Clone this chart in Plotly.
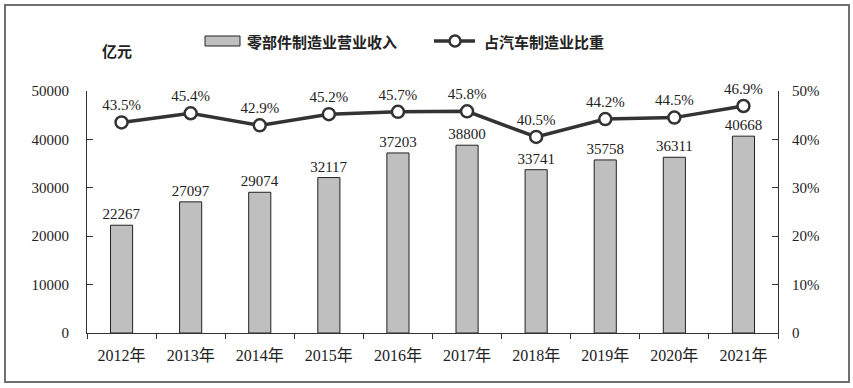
import plotly.graph_objects as go

years = ["2012年", "2013年", "2014年", "2015年", "2016年", "2017年", "2018年", "2019年", "2020年", "2021年"]
revenue = [22267, 27097, 29074, 32117, 37203, 38800, 33741, 35758, 36311, 40668]
share = [43.5, 45.4, 42.9, 45.2, 45.7, 45.8, 40.5, 44.2, 44.5, 46.9]

W, H = 853, 388
ml, mr, mt, mb = 87, 75, 91, 55
pw, ph = W - ml - mr, H - mt - mb

serif = '"Liberation Serif", "Times New Roman", "Noto Sans CJK SC", serif'
cjk = '"Noto Sans CJK SC", sans-serif'


def px(x):
    return (x - ml) / pw


def py(y):
    return (H - mb - y) / ph


fig = go.Figure()
fig.add_trace(go.Bar(
    x=years, y=revenue, name="零部件制造业营业收入",
    marker=dict(color="#bfbfbf", line=dict(color="#222222", width=1)),
    width=0.32,
    text=[str(v) for v in revenue], textposition="outside", constraintext="none",
    textfont=dict(family=serif, size=15, color="#222222"),
    cliponaxis=False, showlegend=False,
))
fig.add_trace(go.Scatter(
    x=years, y=[s / 100 for s in share], name="占汽车制造业比重", yaxis="y2",
    mode="lines+markers+text",
    line=dict(color="#333333", width=3.5),
    marker=dict(size=12, color="white", line=dict(color="#333333", width=2.5)),
    text=[f"{s}%" for s in share], textposition="top center",
    textfont=dict(family=serif, size=15, color="#222222"),
    cliponaxis=False, showlegend=False,
))

band = dict(type="rect", xref="paper", yref="paper", line=dict(width=0), fillcolor="#707070", layer="above")
shapes = [
    # outer frame (four filled bands)
    dict(x0=px(4), x1=px(850), y0=py(4), y1=py(6), **band),
    dict(x0=px(4), x1=px(850), y0=py(381), y1=py(383), **band),
    dict(x0=px(4), x1=px(6), y0=py(4), y1=py(383), **band),
    dict(x0=px(848), x1=px(850), y0=py(4), y1=py(383), **band),
    # legend: bar swatch
    dict(type="rect", xref="paper", yref="paper",
         x0=px(205), x1=px(240), y0=py(36), y1=py(46),
         line=dict(color="#222222", width=1), fillcolor="#bfbfbf"),
    # legend: line swatch
    dict(type="line", xref="paper", yref="paper",
         x0=px(434), x1=px(475), y0=py(41), y1=py(41),
         line=dict(color="#333333", width=3.5)),
    dict(type="circle", xref="paper", yref="paper",
         x0=px(449.5), x1=px(460.5), y0=py(35.5), y1=py(46.5),
         line=dict(color="#333333", width=2.5), fillcolor="white"),
]

annotations = [
    dict(text="亿元", xref="paper", yref="paper", x=px(100), y=py(50), xanchor="left", yanchor="middle",
         showarrow=False, font=dict(family=cjk, size=15, color="#222222", weight="bold")),
    dict(text="零部件制造业营业收入", xref="paper", yref="paper", x=px(245), y=py(41),
         xanchor="left", yanchor="middle", showarrow=False,
         font=dict(family=cjk, size=15, color="#222222", weight="bold")),
    dict(text="占汽车制造业比重", xref="paper", yref="paper", x=px(482), y=py(41),
         xanchor="left", yanchor="middle", showarrow=False,
         font=dict(family=cjk, size=15, color="#222222", weight="bold")),
]

fig.update_layout(
    width=W, height=H,
    margin=dict(l=ml, r=mr, t=mt, b=mb),
    paper_bgcolor="white", plot_bgcolor="white",
    font=dict(family=serif, size=14, color="#222222"),
    showlegend=False,
    xaxis=dict(type="category", range=[-0.5, 9.5], showline=True, linecolor="#333333", linewidth=1,
               ticks="outside", tickson="boundaries", ticklen=5, tickcolor="#333333",
               tickfont=dict(family=serif, size=16), showgrid=False, zeroline=False,
               ticklabelstandoff=8),
    yaxis=dict(range=[0, 50000], tickvals=[0, 10000, 20000, 30000, 40000, 50000],
               ticktext=["0", "10000", "20000", "30000", "40000", "50000"],
               showline=True, linecolor="#333333", linewidth=1, ticks="inside", ticklen=6,
               tickcolor="#333333", showgrid=False, zeroline=False, tickfont=dict(family=serif, size=15),
               ticklabelstandoff=14),
    yaxis2=dict(range=[0, 0.5], overlaying="y", side="right",
                tickvals=[0, 0.1, 0.2, 0.3, 0.4, 0.5], ticktext=["0", "10%", "20%", "30%", "40%", "50%"],
                showline=True, linecolor="#333333", linewidth=1, ticks="inside", ticklen=6,
                tickcolor="#333333", showgrid=False, zeroline=False, tickfont=dict(family=serif, size=15),
                ticklabelstandoff=10),
    annotations=annotations,
    shapes=shapes,
)

fig.write_html("out.html", config={"displayModeBar": False},
               post_script="document.body.style.margin='0';document.body.style.overflow='hidden';")
